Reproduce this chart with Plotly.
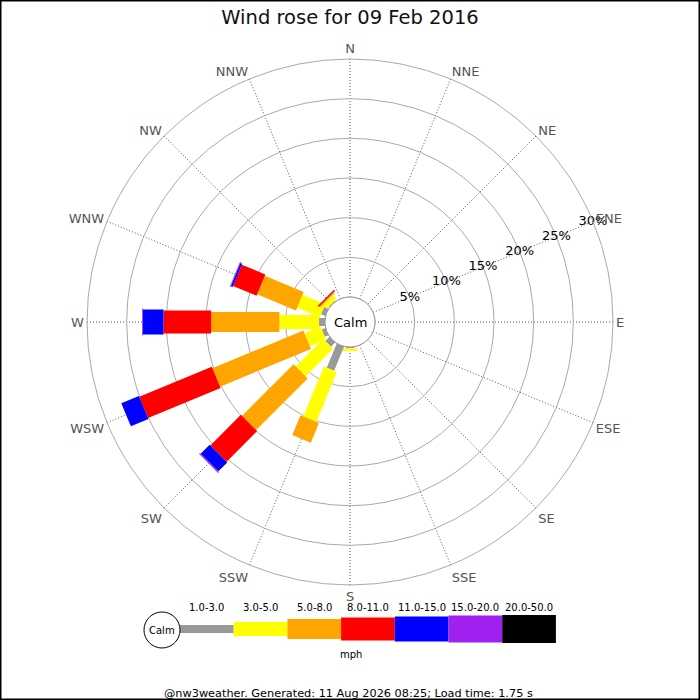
import math
import plotly.graph_objects as go

# wind rose data, % of time per direction and speed band
directions = ["N", "NNE", "NE", "ENE", "E", "ESE", "SE", "SSE",
              "S", "SSW", "SW", "WSW", "W", "WNW", "NW", "NNW"]
speed_bins = ["1.0-3.0", "3.0-5.0", "5.0-8.0", "8.0-11.0",
              "11.0-15.0", "15.0-20.0", "20.0-50.0"]

spd_1_3 = [0, 0, 0, 0, 0, 0, 0, 0, 0.15, 3.3, 0.75, 0.5, 0.75, 0.6, 0.1, 0]
spd_3_5 = [0, 0, 0, 0, 0, 0, 0, 0, 0.35, 6.8, 4.9, 2.2, 5.0, 3.1, 0.7, 0]
spd_5_8 = [0, 0, 0, 0, 0, 0, 0, 0, 0, 2.7, 9.2, 12.4, 8.6, 5.3, 0.15, 0]
spd_8_11 = [0, 0, 0, 0, 0, 0, 0, 0, 0, 0, 5.45, 9.9, 6.0, 3.2, 0.2, 0]
spd_11_15 = [0, 0, 0, 0, 0, 0, 0, 0, 0, 0, 1.6, 2.4, 2.6, 0.25, 0, 0]
spd_15_20 = [0, 0, 0, 0, 0, 0, 0, 0, 0, 0, 0.15, 0, 0.1, 0.1, 0, 0]
spd_20_50 = [0] * 16

radial_ticks = [5, 10, 15, 20, 25, 30]

series = [spd_1_3, spd_3_5, spd_5_8, spd_8_11, spd_11_15, spd_15_20, spd_20_50]
colors = ["#999999", "#ffff00", "#ffa500", "#ff0000", "#0000ff", "#a020f0", "#000000"]
bar_px = [8, 14, 20, 23, 25, 27, 28]  # bar thickness per band, pixels

W = H = 700
CX, CY = 350, 322
R_OUT, R_CALM = 263, 25
R_MAX = 30
px_per = (R_OUT - R_CALM) / R_MAX


def to_r(px):
    return (px - R_CALM) / px_per


def px(x, y):
    return x / W, 1 - y / H


def label(text, x, y, size):
    tx, ty = px(x, y)
    return dict(text=text, x=tx, y=ty, xref="paper", yref="paper", showarrow=False,
                xanchor="center", yanchor="middle",
                font=dict(family="DejaVu Sans", size=size, color="#000000"))


fig = go.Figure()

# bars are drawn as straight-sided blocks (constant pixel width)
for i, d in enumerate(directions):
    th0 = i * 22.5
    cum = 0.0
    for k, s in enumerate(series):
        v = s[i]
        if v <= 0:
            continue
        h = bar_px[k] / 2
        ra = R_CALM + cum * px_per
        if cum == 0:
            ra = math.sqrt(R_CALM ** 2 - h ** 2)
        rb = R_CALM + (cum + v) * px_per
        da = math.degrees(math.atan2(h, ra))
        db = math.degrees(math.atan2(h, rb))
        rr = [to_r(math.hypot(ra, h)), to_r(math.hypot(rb, h)),
              to_r(math.hypot(rb, h)), to_r(math.hypot(ra, h))]
        tt = [th0 - da, th0 - db, th0 + db, th0 + da]
        fig.add_trace(go.Scatterpolar(
            r=rr, theta=tt, mode="lines", fill="toself",
            fillcolor=colors[k], line=dict(width=0, color=colors[k]),
            hoverinfo="skip", showlegend=False))
        cum += v

# radial labels along ENE
fig.add_trace(go.Scatterpolar(
    r=radial_ticks, theta=[67.5] * len(radial_ticks), mode="text",
    text=["%d%%" % t for t in radial_ticks],
    textfont=dict(family="DejaVu Sans", size=13, color="#000000"),
    textposition="middle center", hoverinfo="skip", showlegend=False))

fig.update_layout(
    width=W, height=H,
    margin=dict(l=0, r=0, t=0, b=0),
    paper_bgcolor="white",
    showlegend=False,
    font=dict(family="DejaVu Sans", color="#000000"),
    title=dict(text="Wind rose for 09 Feb 2016", x=0.5, y=1 - 17 / H,
               xanchor="center", yanchor="middle",
               font=dict(family="DejaVu Sans", size=19.5, color="#111111")),
    polar=dict(
        domain=dict(x=[(CX - R_OUT) / W, (CX + R_OUT) / W],
                    y=[1 - (CY + R_OUT) / H, 1 - (CY - R_OUT) / H]),
        hole=R_CALM / R_OUT,
        bgcolor="white",
        angularaxis=dict(
            rotation=90, direction="clockwise", thetaunit="degrees",
            tickmode="array", tickvals=[i * 22.5 for i in range(16)],
            ticktext=directions, ticks="",
            tickfont=dict(family="DejaVu Sans", size=13, color="#555555"),
            showgrid=True, gridcolor="#555555", griddash="1px,2px", gridwidth=1,
            showline=True, linecolor="#aaaaaa", linewidth=1),
        radialaxis=dict(
            range=[0, R_MAX], tickmode="array", tickvals=radial_ticks,
            showticklabels=False, ticks="", showline=False,
            gridcolor="#aaaaaa", gridwidth=1),
    ),
)

shapes = []
annotations = []

# calm circle in the middle
x0, y0 = px(CX - R_CALM, CY + R_CALM)
x1, y1 = px(CX + R_CALM, CY - R_CALM)
shapes.append(dict(type="circle", xref="paper", yref="paper", x0=x0, y0=y0, x1=x1, y1=y1,
                   fillcolor="white", line=dict(color="#999999", width=1), layer="above"))
annotations.append(label("Calm", CX, CY, 13))

# speed legend
LX, LY, LW = 180, 629, 53.7
for k, lab in enumerate(speed_bins):
    h = bar_px[k] / 2
    x0, y0 = px(LX + k * LW, LY + h)
    x1, y1 = px(LX + (k + 1) * LW, LY - h)
    shapes.append(dict(type="rect", xref="paper", yref="paper", x0=x0, y0=y0, x1=x1, y1=y1,
                       fillcolor=colors[k], line=dict(width=0)))
    annotations.append(label(lab, LX + (k + 0.5) * LW, 607, 10))
x0, y0 = px(162 - 18, 630 + 18)
x1, y1 = px(162 + 18, 630 - 18)
shapes.append(dict(type="circle", xref="paper", yref="paper", x0=x0, y0=y0, x1=x1, y1=y1,
                   fillcolor="white", line=dict(color="#000000", width=1)))
annotations.append(label("Calm", 162, 630, 10))
annotations.append(label("mph", 351, 654, 10))

# footer
annotations.append(label("@nw3weather. Generated: 11 Aug 2026 08:25; Load time: 1.75 s",
                         348, 693, 11.3))

# frame round the picture
shapes.append(dict(type="rect", xref="paper", yref="paper", x0=0, y0=0, x1=1, y1=1,
                   line=dict(color="#000000", width=3)))

fig.update_layout(shapes=shapes, annotations=annotations)

fig.write_html("out.html", config={"displayModeBar": False},
               post_script="document.body.style.margin='0px';")
